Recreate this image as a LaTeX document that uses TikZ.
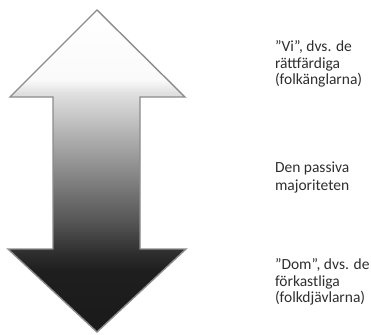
\documentclass[tikz,border=0pt]{standalone}
\usepackage{fontspec}
\setmainfont{Carlito}
\usepackage{tikz}
\colorlet{outlinegray}{black!45}
\colorlet{textgray}{black!82}

\begin{document}
\begin{tikzpicture}[x=1pt,y=-1pt]
		\useasboundingbox (0,0) rectangle (371,334);
		% the double arrow, shaded band by band
		\begin{scope}
			\clip (97,10) -- (185,97) -- (140,97) -- (140,249) -- (186,249) -- (97,332)
				-- (8,249) -- (53,249) -- (53,97) -- (10,97) -- cycle;
			\foreach \ya/\yb/\ca/\cb in {10/80/0/2, 80/93/2/12, 93/127/12/27, 127/160/27/41,
					160/193/41/55, 193/227/55/69, 227/253/69/82, 253/270/82/88, 270/334/88/90}
				\shade[top color=black!\ca, bottom color=black!\cb] (0,\ya-0.3) rectangle (200,\yb+0.3);
		\end{scope}
		\draw[outlinegray,line width=1.4pt,line join=miter]
			(97,10) -- (185,97) -- (140,97) -- (140,249) -- (186,249) -- (97,332)
			-- (8,249) -- (53,249) -- (53,97) -- (10,97) -- cycle;
		\node[textgray,anchor=west,align=left,font=\fontsize{15.5}{16.5}\selectfont] (vi) at (271.5,64) {”Vi”, dvs. de\\rättfärdiga\\(folkänglarna)};
		\node[textgray,anchor=west,align=left,font=\fontsize{15.5}{18}\selectfont] (passiva) at (271.5,177) {Den passiva\\majoriteten};
		\node[textgray,anchor=west,align=left,font=\fontsize{15.5}{16.5}\selectfont] (dom) at (271.5,282) {”Dom”, dvs. de\\förkastliga\\(folkdjävlarna)};
		\end{tikzpicture}
\end{document}
